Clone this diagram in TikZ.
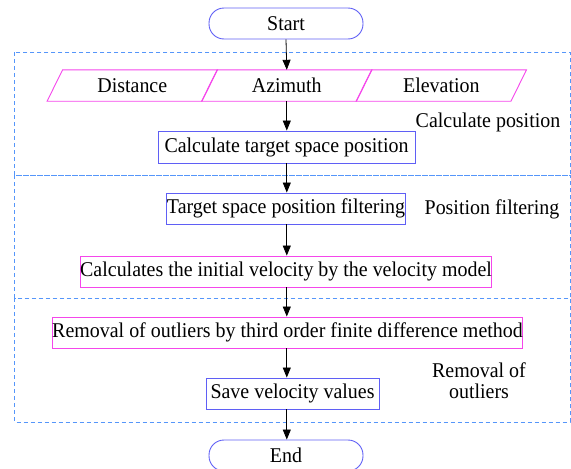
\documentclass[tikz,border=0pt]{standalone}
\usepackage{fontspec}
\setmainfont[FakeStretch=0.95]{Liberation Serif}
\usetikzlibrary{arrows.meta,calc}
\definecolor{boxblue}{RGB}{95,95,245}
\definecolor{boxpink}{RGB}{245,70,235}
\definecolor{dashblue}{RGB}{85,150,250}
\tikzset{
  every node/.style={font=\rmfamily\fontsize{21}{23}\selectfont, inner sep=0pt},
  terminal/.style={draw=boxblue, line width=0.9pt, rounded corners=15pt, minimum width=154pt, minimum height=31pt},
  procblue/.style={draw=boxblue, line width=0.9pt, minimum height=31pt},
  procpink/.style={draw=boxpink, line width=0.9pt, minimum height=31pt},
  iobox/.style={minimum width=154.5pt, minimum height=31pt},
  stage/.style={draw=dashblue, line width=0.8pt, dash pattern=on 4pt off 3pt},
  flow/.style={line width=0.8pt, -{Triangle[width=8pt,length=10pt]}},
  stagelabel/.style={align=center}
}
\begin{document}
\begin{tikzpicture}[x=1pt,y=-1pt]
\useasboundingbox (0,0) rectangle (571,469);

% stage frames
\draw[stage] (14.6,52) rectangle (570,175);
\draw[stage] (14.6,175) rectangle (570,298);
\draw[stage] (14.6,298) rectangle (570,422);

% terminals
\node[terminal] (start) at (286,23.5) {Start};
\node[terminal] (end) at (286,455.5) {End};

% input parallelograms, sharing their slanted sides
\node[iobox] (dist) at (132.3,85.5) {Distance};
\node[iobox] (azim) at (286.8,85.5) {Azimuth};
\node[iobox] (elev) at (441.3,85.5) {Elevation};
\foreach \n in {dist,azim,elev}{
  \draw[boxpink, line width=0.9pt]
    ($(\n.south west)+(-7.75,0)$) -- ($(\n.north west)+(7.75,0)$) --
    ($(\n.north east)+(7.75,0)$) -- ($(\n.south east)+(-7.75,0)$) -- cycle;
}

% process steps
\node[procblue, minimum width=257pt, minimum height=32pt] (calc) at (286.5,147) {Calculate target space position};
\node[procblue, minimum width=238pt] (filt) at (286,208.5) {Target space position filtering};
\node[procpink, minimum width=402pt] (vel) at (286,271.5) {Calculates the initial velocity by the velocity model};
\node[procpink, minimum width=435pt] (outl) at (287.5,332.5) {Removal of outliers by third order finite difference method};
\node[procblue, minimum width=173pt] (save) at (292.5,393.5) {Save velocity values};

% stage labels
\node[stagelabel] (lbcalc) at (488,122) {Calculate position};
\node[stagelabel] (lbfilt) at (492,209) {Position filtering};
\node[stagelabel] (lbout) at (479,381) {Removal of\\[-2pt]outliers};

% connectors
\draw[flow] (start.south) -- (azim.north);
\draw[flow] (azim.south) -- (azim.south |- calc.north);
\draw[flow] (calc.south -| azim) -- (azim |- filt.north);
\draw[flow] (filt.south -| azim) -- (azim |- vel.north);
\draw[flow] (vel.south -| azim) -- (azim |- outl.north);
\draw[flow] (outl.south -| azim) -- (azim |- save.north);
\draw[flow] (save.south -| azim) -- (azim |- end.north);
\end{tikzpicture}
\end{document}
